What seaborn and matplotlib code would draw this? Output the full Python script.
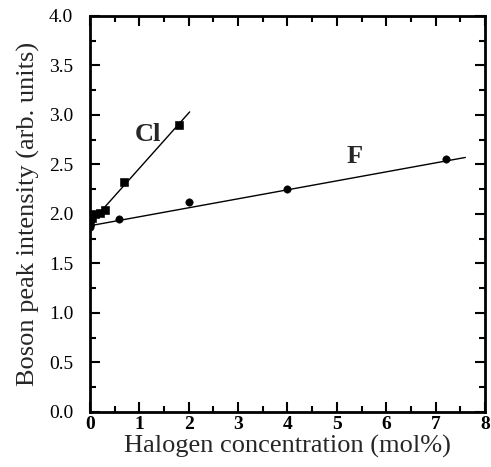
import matplotlib
matplotlib.use("Agg")
import matplotlib.pyplot as plt
import seaborn as sns
import pandas as pd
from matplotlib.ticker import MultipleLocator

# Data
cl_x = [0.0, 0.05, 0.1, 0.2, 0.3, 0.7, 1.8]
cl_y = [1.92, 1.96, 2.0, 2.01, 2.04, 2.32, 2.90]
f_x = [0.0, 0.6, 2.0, 4.0, 7.2]
f_y = [1.87, 1.95, 2.12, 2.25, 2.55]
cl_fit_x = [0.0, 2.02]
cl_fit_y = [1.90, 3.03]
f_fit_x = [0.0, 7.6]
f_fit_y = [1.88, 2.57]

sns.set_theme(style="ticks")
plt.rcParams['font.family'] = ['Liberation Serif', 'DejaVu Serif']

fig = plt.figure(figsize=(4.91, 4.67), dpi=100)
ax = fig.add_axes([0.183, 0.118, 0.805, 0.848])

df_cl = pd.DataFrame({"x": cl_x, "y": cl_y})
df_f = pd.DataFrame({"x": f_x, "y": f_y})
sns.lineplot(x=cl_fit_x, y=cl_fit_y, ax=ax, color="black", lw=1.0)
sns.lineplot(x=f_fit_x, y=f_fit_y, ax=ax, color="black", lw=1.0)
sns.scatterplot(data=df_cl, x="x", y="y", ax=ax, marker="s", s=30, color="black", edgecolor="black", zorder=3)
sns.scatterplot(data=df_f, x="x", y="y", ax=ax, marker="o", s=28, color="black", edgecolor="black", zorder=3)

ax.text(1.17, 2.80, "Cl", fontsize=19, fontweight="bold", ha="center", va="center")
ax.text(5.36, 2.58, "F", fontsize=19, fontweight="bold", ha="center", va="center")

ax.set_xlim(0, 8)
ax.set_ylim(0, 4)
ax.xaxis.set_major_locator(MultipleLocator(1))
ax.xaxis.set_minor_locator(MultipleLocator(0.5))
ax.yaxis.set_major_locator(MultipleLocator(0.5))
ax.yaxis.set_minor_locator(MultipleLocator(0.25))
ax.yaxis.set_major_formatter(matplotlib.ticker.FormatStrFormatter('%.1f'))
ax.tick_params(which="both", direction="in", top=True, right=True, width=1.5, colors="black")
ax.tick_params(which="major", length=7)
ax.tick_params(which="minor", length=4)
ax.tick_params(axis="x", pad=3, labelsize=14)
ax.tick_params(axis="y", pad=12, labelsize=14)
for lab in ax.get_xticklabels():
    lab.set_fontweight("bold")
for sp in ax.spines.values():
    sp.set_linewidth(2)
    sp.set_color("black")

ax.set_xlabel("Halogen concentration (mol%)", fontsize=19, labelpad=1)
ax.set_ylabel("Boson peak intensity (arb. units)", fontsize=19, labelpad=6)

fig.savefig("out.png", dpi=100)
